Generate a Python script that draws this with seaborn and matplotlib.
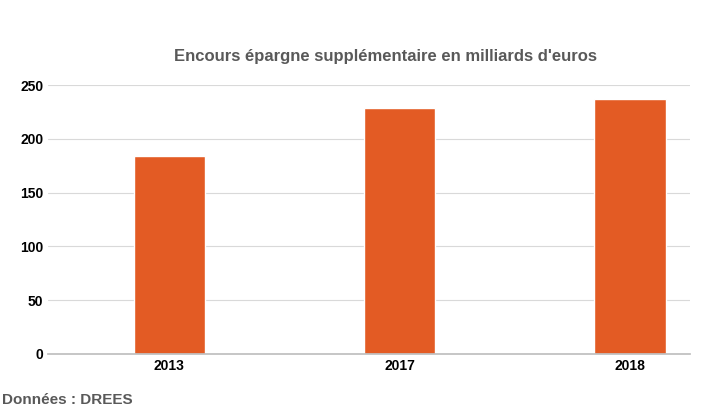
import matplotlib
matplotlib.use("Agg")
import matplotlib.pyplot as plt
import seaborn as sns
import pandas as pd

years = ["2013", "2017", "2018"]
values = [184, 229, 237]
yticks = [0, 50, 100, 150, 200, 250]

sns.set_theme(style="white")
plt.rcParams['font.family'] = ['Liberation Sans', 'DejaVu Sans']

fig = plt.figure(figsize=(7.07, 4.15), dpi=100)
ax = fig.add_axes([0.068, 0.147, 0.908, 0.648])
df = pd.DataFrame({"year": years, "value": values})
sns.barplot(data=df, x="year", y="value", color="#E35B24", saturation=1, width=0.31, ax=ax)
ax.set_ylim(0, 250)
ax.set_xlim(-0.526, 2.26)
ax.set_yticks(yticks)
ax.yaxis.grid(True, color="#D9D9D9", lw=0.8)
ax.set_axisbelow(True)
for s in ["top", "right", "left"]:
    ax.spines[s].set_visible(False)
ax.spines["bottom"].set_color("#BFBFBF")
ax.set_xlabel("")
ax.set_ylabel("")
ax.tick_params(axis="both", length=0, labelsize=10)
for lbl in ax.get_xticklabels() + ax.get_yticklabels():
    lbl.set_fontweight("bold")
    lbl.set_color("#000000")
fig.text(0.545, 0.865, "Encours épargne supplémentaire en milliards d'euros",
         ha="center", va="center", fontsize=12, fontweight="bold", color="#595959")
fig.text(0.003, 0.035, "Données : DREES", ha="left", va="center",
         fontsize=11, fontweight="bold", color="#595959")
fig.savefig("out.png", dpi=100)
